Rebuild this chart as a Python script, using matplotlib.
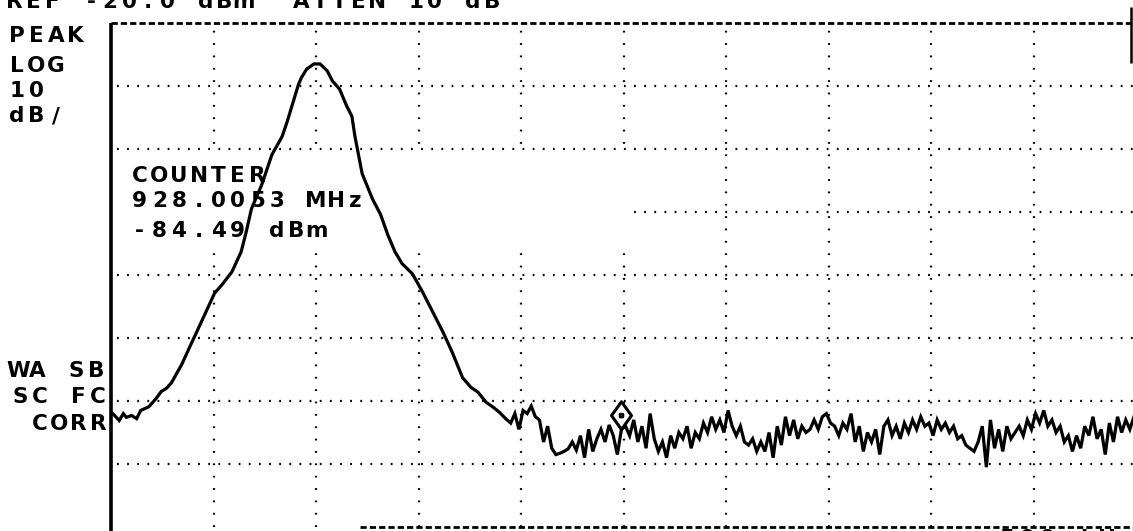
import numpy as np
import matplotlib.pyplot as plt
from matplotlib.path import Path
from matplotlib.patches import Rectangle

plt.rcParams['lines.scale_dashes'] = False

# screen settings
ref_level = -20.0      # dBm at top graticule line
db_per_div = 10.0
n_xdiv, n_ydiv = 10, 8
bottom_level = ref_level - n_ydiv * db_per_div

# carrier: frequency in divisions from left edge, level in dBm
carrier_freq = [0.00, 0.03, 0.08, 0.12, 0.15, 0.20, 0.25, 0.29, 0.37, 0.44,
                0.49, 0.54, 0.59, 0.69, 0.78, 0.88, 1.01, 1.08, 1.18, 1.27,
                1.32, 1.37, 1.47, 1.57, 1.67, 1.72, 1.78, 1.83, 1.86, 1.91,
                1.98, 2.04, 2.11, 2.16, 2.23, 2.30, 2.35, 2.38, 2.45, 2.55,
                2.63, 2.70, 2.77, 2.84, 2.94, 3.04, 3.14, 3.24, 3.33, 3.43,
                3.51, 3.58, 3.66, 3.73, 3.79, 3.85]
carrier_level = [-81.8, -82.2, -83.1, -82.0, -82.6, -82.3, -82.8, -81.5, -80.9, -79.6,
                 -78.5, -78.0, -77.1, -74.2, -71.0, -67.5, -62.9, -61.6, -59.5, -56.3,
                 -53.1, -49.5, -45.7, -40.9, -38.0, -35.6, -32.4, -29.7, -28.6, -27.3,
                 -26.5, -26.5, -27.6, -29.2, -30.5, -33.2, -34.8, -38.0, -43.9, -47.9,
                 -50.4, -53.6, -56.3, -58.2, -59.8, -62.7, -65.9, -69.1, -72.3, -76.3,
                 -77.8, -78.6, -80.2, -81.0, -81.8, -82.8]

# noise floor, one reading every 0.04 div from 3.90 div
noise_start, noise_step = 3.90, 0.04
noise_level = [-83.5, -82.0, -84.5, -81.5, -82.0, -80.8, -82.5, -83.0, -86.5, -84.0,
               -87.5, -88.5, -88.3, -88.0, -87.6, -86.5, -87.8, -85.5, -89.0, -84.5,
               -88.0, -86.0, -84.5, -86.5, -83.8, -85.5, -88.5, -84.49, -84.0, -85.5,
               -83.0, -86.5, -84.0, -87.5, -82.0, -86.0, -88.0, -86.5, -89.0, -85.5,
               -87.5, -85.0, -86.0, -84.0, -87.5, -85.0, -86.0, -83.5, -85.0, -82.5,
               -84.5, -83.0, -85.0, -81.5, -84.0, -85.5, -84.0, -86.5, -87.0, -86.0,
               -88.0, -86.5, -88.0, -85.0, -89.0, -84.0, -87.0, -82.5, -85.5, -83.0,
               -86.0, -84.0, -85.0, -84.5, -83.0, -84.5, -82.5, -82.0, -83.5, -84.0,
               -85.5, -83.5, -84.5, -82.0, -86.5, -84.0, -88.0, -85.0, -86.5, -84.5,
               -88.5, -84.0, -83.0, -85.5, -84.0, -86.0, -83.5, -85.0, -83.0, -84.5,
               -82.5, -84.0, -83.5, -85.5, -83.0, -84.5, -83.5, -85.0, -84.0, -86.0,
               -85.5, -87.0, -87.5, -88.0, -86.5, -84.0, -90.5, -83.0, -87.5, -84.5,
               -88.0, -84.0, -86.0, -85.0, -84.0, -85.5, -83.0, -84.5, -82.0, -83.5,
               -81.5, -84.0, -83.0, -85.0, -84.0, -86.5, -85.5, -88.0, -85.5, -87.5,
               -84.0, -85.5, -82.5, -86.0, -84.5, -88.5, -83.5, -86.5, -82.5, -85.0,
               -83.0, -84.5, -82.5, -84.0]

marker_index = 27          # into the noise readings
counter_freq = 928.0053    # MHz

noise_freq = noise_start + noise_step * np.arange(len(noise_level))
freq = np.concatenate([carrier_freq, noise_freq])
level = np.concatenate([carrier_level, noise_level])
marker_freq = noise_freq[marker_index]
marker_level = noise_level[marker_index]

W, H = 1133, 531
fig = plt.figure(figsize=(W / 100, H / 100), dpi=100)
fig.patch.set_facecolor('white')
ax = fig.add_axes([111 / W, (H - 527) / H, 1025 / W, 504 / H])
ax.set_xlim(0, n_xdiv)
ax.set_ylim(bottom_level, ref_level)
ax.axis('off')

# graticule
for i in range(1, n_xdiv):
    ax.plot([i, i], [bottom_level, ref_level], color='black', lw=1.6,
            ls=(0, (1.3, 7.6)), zorder=1)
for j in range(1, n_ydiv):
    y = ref_level - j * db_per_div
    ax.plot([0, n_xdiv], [y, y], color='black', lw=1.6,
            ls=(3, (1.3, 6.0)), zorder=1)
ax.plot([0, n_xdiv], [ref_level, ref_level], color='black', lw=2.0,
        ls=(0, (4.5, 2.2)), zorder=1, clip_on=False)
ax.plot([2.43, n_xdiv], [bottom_level, bottom_level], color='black', lw=2.0,
        ls=(0, (4.5, 2.2)), zorder=1, clip_on=False)
ax.plot([0, 0], [bottom_level - 0.7, ref_level], color='black', lw=2.6,
        zorder=4, clip_on=False, solid_capstyle='butt')
ax.plot([9.95, 9.95], [ref_level + 2.5, ref_level - 6.3], color='black', lw=1.8,
        zorder=4, clip_on=False, solid_capstyle='butt')

# cleared area behind the counter readout
ax.add_patch(Rectangle((0.02, -56.0), 5.0, 15.6, facecolor='white',
                       edgecolor='none', zorder=2))

# trace
ax.plot(freq, level, color='black', lw=2.3, zorder=3, solid_joinstyle='miter')

# marker: diamond sitting on the trace point with a dot in the middle
mk_verts = [(0, 0), (0.72, 1), (0, 2), (-0.72, 1), (0, 0),
            (-0.09, 0.91), (0.09, 0.91), (0.09, 1.09), (-0.09, 1.09), (-0.09, 0.91)]
mk_codes = [Path.MOVETO, Path.LINETO, Path.LINETO, Path.LINETO, Path.CLOSEPOLY,
            Path.MOVETO, Path.LINETO, Path.LINETO, Path.LINETO, Path.CLOSEPOLY]
ax.plot([marker_freq], [marker_level], marker=Path(mk_verts, mk_codes), ms=40,
        mfc='white', mec='black', mew=2.2, ls='none', zorder=5)


def screen_text(x, y, s, pitch=19.6):
    # fixed-pitch characters, x/y in screen pixels (y = baseline)
    for i, ch in enumerate(s):
        if ch == ' ':
            continue
        fig.text((x + i * pitch + pitch / 2) / W, 1 - y / H, ch,
                 ha='center', va='baseline', fontsize=15.5,
                 family='DejaVu Sans', weight='bold', color='black', zorder=6)


screen_text(5, 8, "REF -20.0 dBm  ATTEN 10 dB", pitch=19.1)
screen_text(7, 42, "PEAK")
screen_text(7, 72, "LOG")
screen_text(7, 97, "10")
screen_text(7, 122, "dB/")
screen_text(8, 377, "WA SB")
screen_text(10, 403, "SC FC")
screen_text(10, 430, " CORR")
screen_text(130, 182, "COUNTER")
screen_text(130, 207, f"{counter_freq:.4f} MHz")
screen_text(130, 237, f"{marker_level:.2f} dBm")
screen_text(997, 545, "500 kHz", pitch=20)

fig.savefig('out.png', dpi=100, facecolor='white')
plt.close(fig)
